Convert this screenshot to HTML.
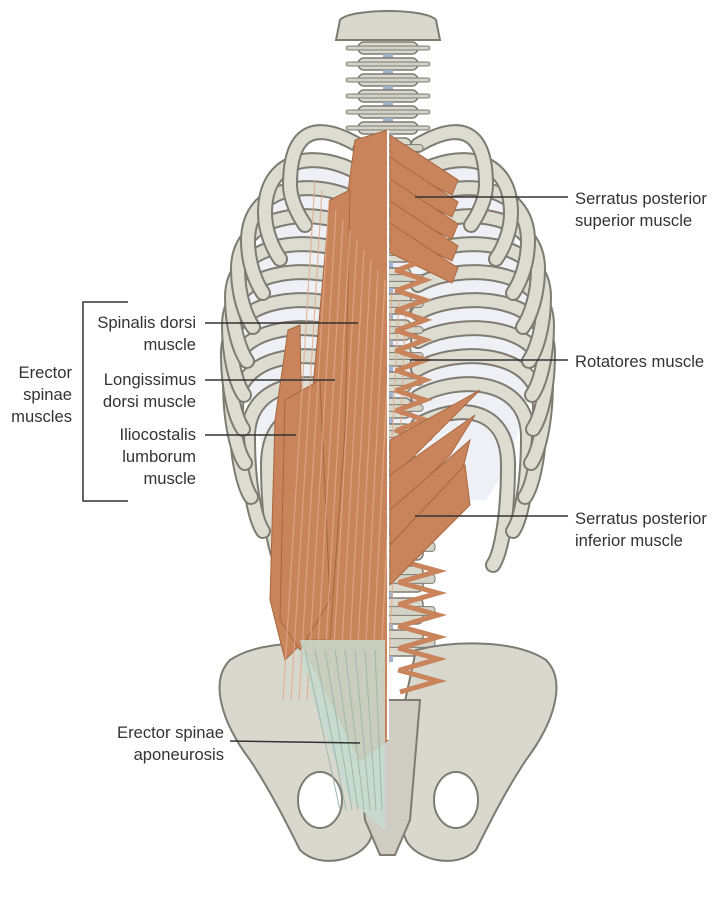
<!DOCTYPE html>
<html><head><meta charset="utf-8"><style>
body{margin:0;background:#fff;}
#w{position:relative;width:720px;height:900px;overflow:hidden;font-family:"Liberation Sans",sans-serif;color:#333;}
.t{position:absolute;font-size:16.6px;line-height:22px;}
.r{text-align:right}
svg{position:absolute;left:0;top:0}
</style></head><body><div id="w">
<svg width="720" height="900" id="s">
<g id="ribs"></g>
<g id="spine"></g>
<g stroke="#7d7b72" stroke-width="2" fill="#d9d8cf">
<path d="M360,650 C320,640 260,640 230,660 C210,680 220,720 250,760 C270,790 285,820 300,850 C320,870 360,860 370,840 C385,800 385,760 375,720 Z"/>
<path d="M416,650 C456,640 516,640 546,660 C566,680 556,720 526,760 C506,790 491,820 476,850 C456,870 416,860 406,840 C391,800 391,760 401,720 Z"/>
<path d="M355,700 L420,700 L410,820 L395,855 L380,855 L365,820 Z" fill="#cfcdc3"/>
<ellipse cx="320" cy="800" rx="22" ry="28" fill="#fff"/>
<ellipse cx="456" cy="800" rx="22" ry="28" fill="#fff"/>
</g>
<path d="M290,630 L385,630 L385,830 L350,800 L320,720 Z" fill="#c8d9cf" opacity="0.9"/>
<g id="mus"></g>
<g stroke="#333" stroke-width="1.5" fill="none">
<line x1="415" y1="197" x2="568" y2="197"/>
<line x1="410" y1="360" x2="568" y2="360"/>
<line x1="415" y1="516" x2="568" y2="516"/>
<line x1="205" y1="323" x2="358" y2="323"/>
<line x1="205" y1="380" x2="335" y2="380"/>
<line x1="205" y1="435" x2="296" y2="435"/>
<line x1="230" y1="741" x2="360" y2="743"/>
<path d="M128,302 L83,302 L83,501 L128,501"/>
</g>
</svg>
<div class="t" style="left:575px;top:188px">Serratus posterior<br>superior muscle</div>
<div class="t" style="left:575px;top:351px">Rotatores muscle</div>
<div class="t" style="left:575px;top:508px">Serratus posterior<br>inferior muscle</div>
<div class="t r" style="right:524px;top:312px">Spinalis dorsi<br>muscle</div>
<div class="t r" style="right:524px;top:369px">Longissimus<br>dorsi muscle</div>
<div class="t r" style="right:524px;top:424px">Iliocostalis<br>lumborum<br>muscle</div>
<div class="t r" style="right:648px;top:362px">Erector<br>spinae<br>muscles</div>
<div class="t r" style="right:496px;top:722px">Erector spinae<br>aponeurosis</div>
</div>
<script>
var NS="http://www.w3.org/2000/svg";
function el(p,t,a){var e=document.createElementNS(NS,t);for(var k in a)e.setAttribute(k,a[k]);p.appendChild(e);return e;}
var ribs=document.getElementById("ribs"),sp=document.getElementById("spine"),mu=document.getElementById("mus");
el(ribs,"path",{d:"M300,160 C230,250 230,420 290,500 L486,500 C546,420 546,250 476,160Z",fill:"#eef0f5",stroke:"none"});
var xo=[290,265,248,238,232,229,228,230,236,248,268];
for(var i=10;i>=0;i--){var y=145+i*28,x=xo[i],x2=776-x,dl=20+i*6;
var d1="M358,"+y+" C320,"+(y-22)+" "+x+","+(y-20)+" "+x+","+(y+40)+" C"+x+","+(y+40+dl*0.7)+" "+(x+8)+","+(y+50+dl)+" "+(x+15)+","+(y+60+dl);
var d2="M418,"+y+" C456,"+(y-22)+" "+x2+","+(y-20)+" "+x2+","+(y+40)+" C"+x2+","+(y+40+dl*0.7)+" "+(x2-8)+","+(y+50+dl)+" "+(x2-15)+","+(y+60+dl);
[d1,d2].forEach(function(d){el(ribs,"path",{d:d,fill:"none",stroke:"#7d7b72","stroke-width":16,"stroke-linecap":"round"});el(ribs,"path",{d:d,fill:"none",stroke:"#dddcd1","stroke-width":12,"stroke-linecap":"round"});});}
el(sp,"path",{d:"M340,20 C350,8 426,8 436,20 L440,40 L336,40Z",fill:"#d9d8cf",stroke:"#7d7b72","stroke-width":2});
for(var y=42;y<660;y+=(y<130?16:(y<480?26:32))){var w=y<130?60:(y<480?46:70),h=y<130?12:(y<480?20:26);
el(sp,"rect",{x:388-w/2,y:y,width:w,height:h,rx:6,fill:"#dad9ce",stroke:"#7d7b72","stroke-width":1.5});
el(sp,"rect",{x:388-w/2-12,y:y+h/3,width:w+24,height:h/3,rx:3,fill:"#d3d2c6",stroke:"#7d7b72","stroke-width":1});
el(sp,"rect",{x:383,y:y+h,width:10,height:6,fill:"#9fb3cf"});}
var mc="#c9845b";
function poly(pts,f){el(mu,"polygon",{points:pts,fill:f||mc,stroke:"#a8673f","stroke-width":1});}
poly("355,140 388,130 388,740 360,760 330,700 300,640 320,420 340,250");
poly("330,200 350,190 345,430 330,640 300,640 310,420");
poly("288,330 300,325 305,640 285,660 270,600 275,420");
poly("285,400 320,380 330,600 300,650 280,620");
for(var k=0;k<14;k++){var x=275+k*8;el(mu,"line",{x1:x+40-k*1,y1:180+k*10,x2:x+8,y2:700,stroke:"#e2ab88","stroke-width":1.2,opacity:0.8});}
el(mu,"path",{d:"M300,640 L385,640 L385,830 L350,800 L320,720Z",fill:"#c8d9cf",opacity:0.85});
for(var k=0;k<8;k++)el(mu,"line",{x1:305+k*10,y1:650,x2:340+k*6,y2:810,stroke:"#9fb8aa","stroke-width":1});
for(var k=0;k<5;k++){var y=135+k*22;poly("390,"+y+" 390,"+(y+30)+" 452,"+(y+60)+" 458,"+(y+45));}
for(var y=250;y<440;y+=20){el(mu,"path",{d:"M395,"+y+" L425,"+(y+10)+" L398,"+(y+20),fill:"none",stroke:mc,"stroke-width":5});}
for(var y=560;y<680;y+=22){el(mu,"path",{d:"M398,"+y+" L438,"+(y+11)+" L400,"+(y+22),fill:"none",stroke:mc,"stroke-width":5});}
for(var k=0;k<4;k++){var y=440+k*35,ty=390+k*25;poly("390,"+y+" 390,"+(y+40)+" "+(440+k*10)+","+(ty+40)+" "+(480-k*5)+","+ty);}
el(mu,"line",{x1:388,y1:130,x2:388,y2:740,stroke:"#fff","stroke-width":2});
</script>
</body></html>
